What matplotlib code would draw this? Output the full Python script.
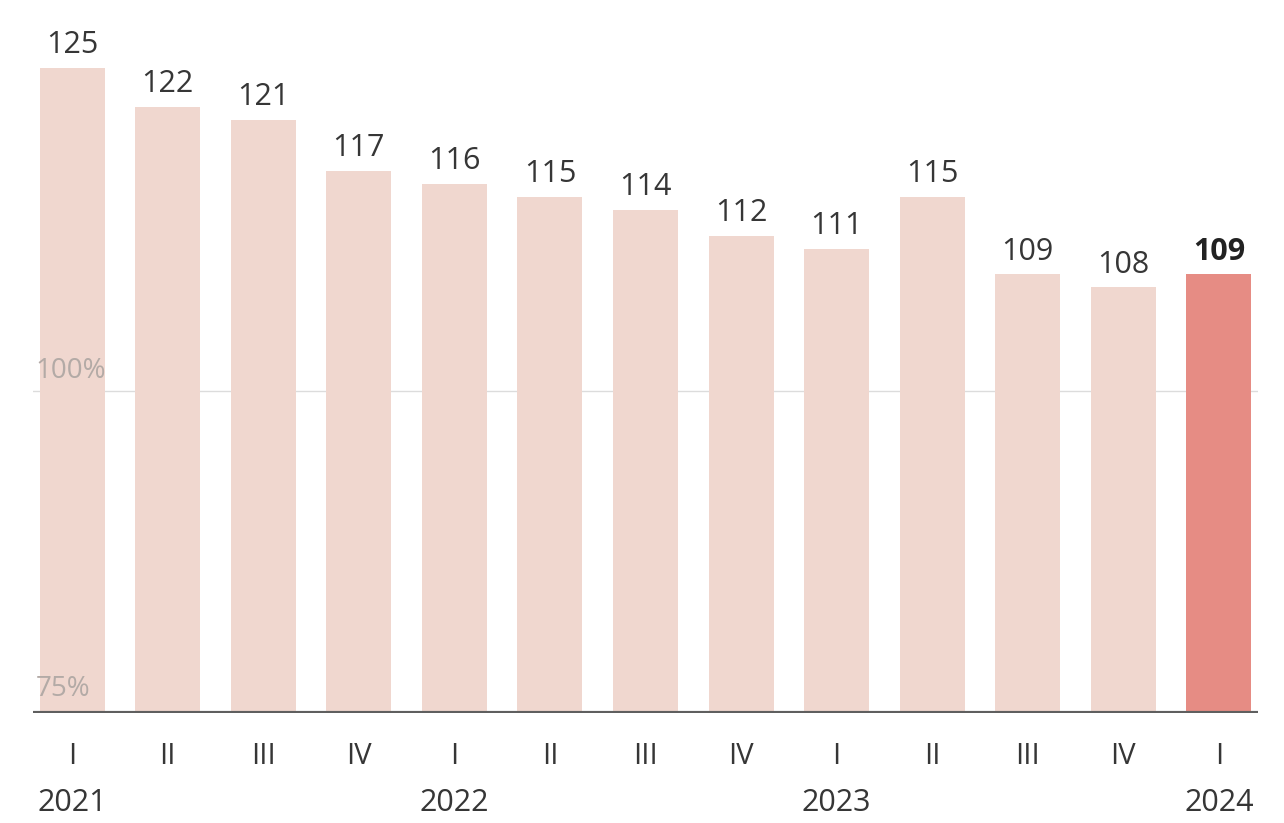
import numpy as np
import matplotlib.pyplot as plt

plt.rcParams['font.family'] = ['Open Sans', 'DejaVu Sans']

# data
quarters = ['I', 'II', 'III', 'IV', 'I', 'II', 'III', 'IV', 'I', 'II', 'III', 'IV', 'I']
years = {0: '2021', 4: '2022', 8: '2023', 12: '2024'}
values = [125, 122, 121, 117, 116, 115, 114, 112, 111, 115, 109, 108, 109]

base = 75
light = '#f0d7cf'
accent = '#e68c84'
text_col = '#363636'

W, H = 1284, 823
fig = plt.figure(figsize=(W / 100, H / 100), dpi=100)
ax = fig.add_axes([33 / W, (H - 713) / H, 1225 / W, 713 / H])

x = np.arange(len(values))
heights = [v - base for v in values]
colors = [light] * (len(values) - 1) + [accent]
ax.bar(x, heights, bottom=base, width=0.68, color=colors, zorder=2)

ax.set_xlim(-0.41, 12.41)
ax.set_ylim(base, base + 713 / 12.9)

# reference line at 100%
ax.axhline(100, color='#dcdcdc', lw=1, zorder=1)
ax.text(-0.38, 100.45, '100%', fontsize=20, color='#b3aaa6', ha='left', va='bottom', zorder=3)
ax.text(-0.38, 75.8, '75%', fontsize=20, color='#b3aaa6', ha='left', va='bottom', zorder=3)

# value labels
for i, v in enumerate(values):
    last = i == len(values) - 1
    ax.text(i, v + 0.6, str(v), ha='center', va='bottom', fontsize=22,
            color='#222222' if last else text_col,
            fontweight='bold' if last else 'normal')

# baseline
ax.axhline(base, color='#5f5f5f', lw=3, zorder=4)

for s in ax.spines.values():
    s.set_visible(False)
ax.set_yticks([])
ax.set_xticks([])

# quarter and year labels under the axis
for i, q in enumerate(quarters):
    ax.annotate(q, (i, base), xytext=(0, -44), textcoords='offset pixels',
                ha='center', va='center', fontsize=21, color=text_col)
for i, y in years.items():
    ax.annotate(y, (i, base), xytext=(0, -90), textcoords='offset pixels',
                ha='center', va='center', fontsize=22, color=text_col)

fig.savefig('out.png', dpi=100)
